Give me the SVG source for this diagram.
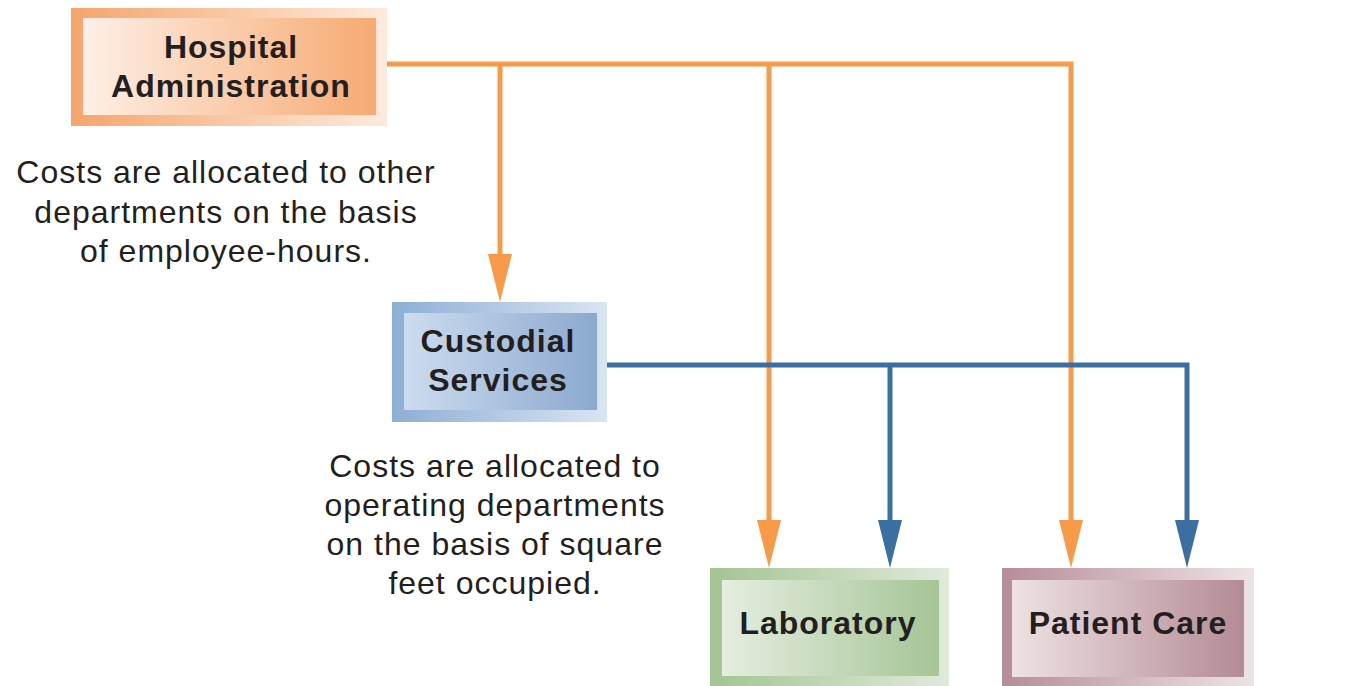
<svg xmlns="http://www.w3.org/2000/svg" width="1362" height="686" viewBox="0 0 1362 686">
<style>
.lbl{font-family:"Liberation Sans",Arial,sans-serif;font-weight:bold;font-size:32px;letter-spacing:1px;fill:#231f20;text-anchor:middle}
.note{font-family:"Liberation Sans",Arial,sans-serif;font-size:32px;letter-spacing:1px;fill:#231f20;text-anchor:middle}
.or{stroke:#f79b4b;stroke-width:5;fill:none}
.bl{stroke:#3b6fa1;stroke-width:5;fill:none}
</style>
<defs>
<linearGradient id="hoOut" x1="0" x2="1" y1="0" y2="0"><stop offset="0" stop-color="#f6a56c"/><stop offset="1" stop-color="#fdeadd"/></linearGradient>
<linearGradient id="hoIn" x1="0" x2="1" y1="0" y2="0"><stop offset="0" stop-color="#fdefe6"/><stop offset="1" stop-color="#f7aa72"/></linearGradient>
<linearGradient id="cuOut" x1="0" x2="1" y1="0" y2="0"><stop offset="0" stop-color="#8eaed5"/><stop offset="1" stop-color="#dae5f3"/></linearGradient>
<linearGradient id="cuIn" x1="0" x2="1" y1="0" y2="0"><stop offset="0" stop-color="#cddcef"/><stop offset="1" stop-color="#8ba9cf"/></linearGradient>
<linearGradient id="laOut" x1="0" x2="1" y1="0" y2="0"><stop offset="0" stop-color="#a4c493"/><stop offset="1" stop-color="#dfeada"/></linearGradient>
<linearGradient id="laIn" x1="0" x2="1" y1="0" y2="0"><stop offset="0" stop-color="#e5eee1"/><stop offset="1" stop-color="#a6c596"/></linearGradient>
<linearGradient id="paOut" x1="0" x2="1" y1="0" y2="0"><stop offset="0" stop-color="#b68d98"/><stop offset="1" stop-color="#eee3e4"/></linearGradient>
<linearGradient id="paIn" x1="0" x2="1" y1="0" y2="0"><stop offset="0" stop-color="#eee2e3"/><stop offset="1" stop-color="#b48b95"/></linearGradient>
</defs>
<rect width="1362" height="686" fill="#ffffff"/>
<g id="connectors">
<path class="or" d="M387,64 H1071 V528"/>
<path class="or" d="M500,64 V262"/>
<path d="M488,254 L512,254 L500,302 Z" fill="#f79b4b"/>
<path class="or" d="M769,64 V528"/>
<path d="M757,520 L781,520 L769,568 Z" fill="#f79b4b"/>
<path d="M1059,520 L1083,520 L1071,568 Z" fill="#f79b4b"/>
<path class="bl" d="M607,365 H1187 V528"/>
<path class="bl" d="M890,365 V528"/>
<path d="M878,520 L902,520 L890,568 Z" fill="#3b6fa1"/>
<path d="M1175,520 L1199,520 L1187,568 Z" fill="#3b6fa1"/>
</g>
<g id="hospital">
<rect x="71" y="8" width="316" height="118" fill="url(#hoOut)"/>
<rect x="83" y="18" width="293" height="97" fill="url(#hoIn)"/>
<text class="lbl" x="231" y="58">Hospital</text>
<text class="lbl" x="231" y="97">Administration</text>
</g>
<g id="custodial">
<rect x="392" y="302" width="215" height="120" fill="url(#cuOut)"/>
<rect x="404" y="313" width="193" height="97" fill="url(#cuIn)"/>
<text class="lbl" x="498" y="352">Custodial</text>
<text class="lbl" x="498" y="391">Services</text>
</g>
<g id="laboratory">
<rect x="710" y="568" width="239" height="118" fill="url(#laOut)"/>
<rect x="722" y="580" width="217" height="96" fill="url(#laIn)"/>
<text class="lbl" x="828" y="634">Laboratory</text>
</g>
<g id="patientcare">
<rect x="1002" y="568" width="252" height="118" fill="url(#paOut)"/>
<rect x="1012" y="580" width="232" height="97" fill="url(#paIn)"/>
<text class="lbl" x="1128" y="634">Patient Care</text>
</g>
<g id="note1">
<text class="note" x="226" y="183">Costs are allocated to other</text>
<text class="note" x="226" y="223">departments on the basis</text>
<text class="note" x="226" y="262">of employee-hours.</text>
</g>
<g id="note2">
<text class="note" x="495" y="477">Costs are allocated to</text>
<text class="note" x="495" y="516">operating departments</text>
<text class="note" x="495" y="555">on the basis of square</text>
<text class="note" x="495" y="594">feet occupied.</text>
</g>
</svg>
